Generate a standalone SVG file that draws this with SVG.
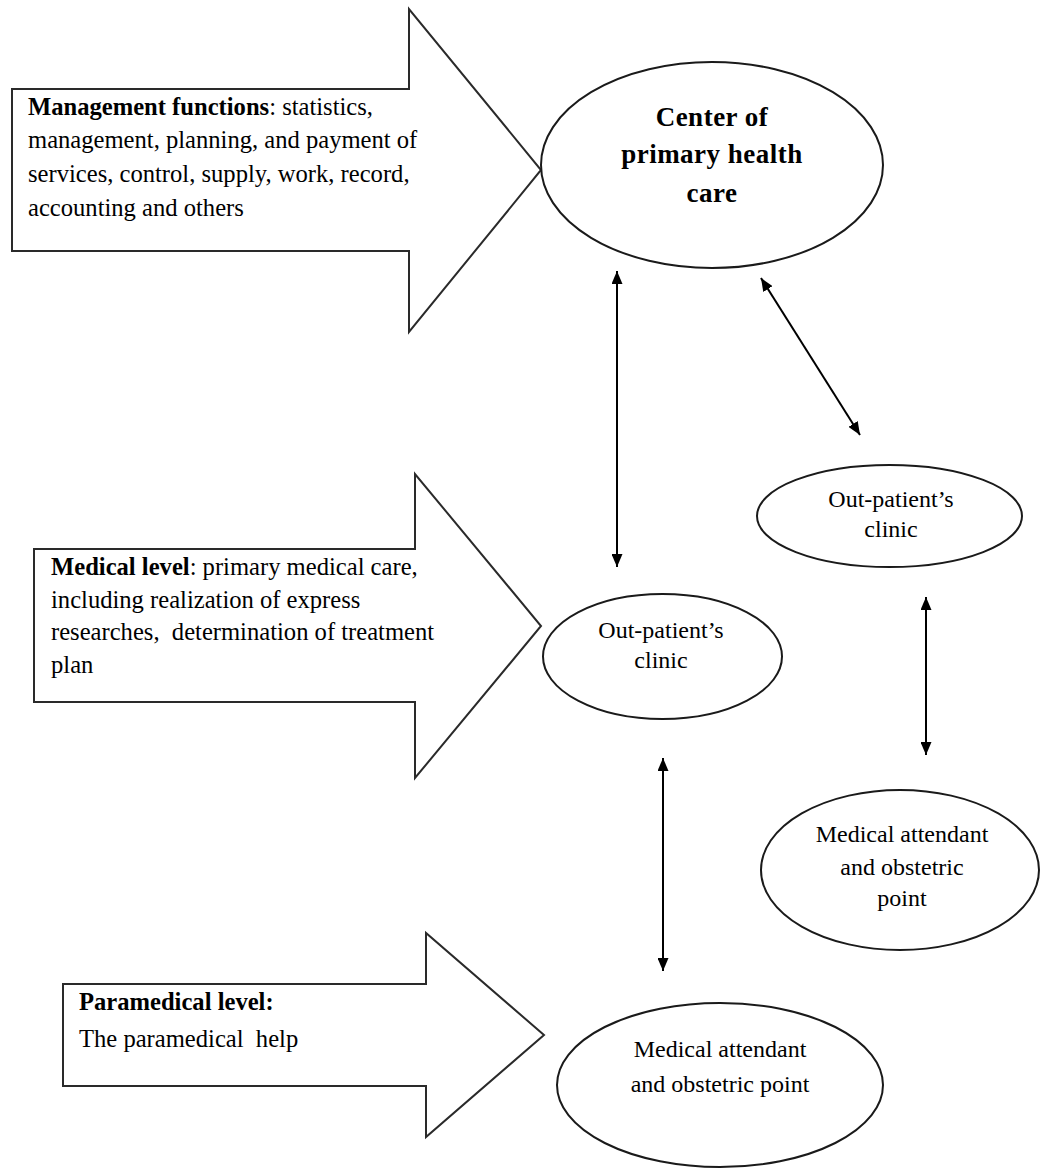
<svg xmlns="http://www.w3.org/2000/svg" width="1041" height="1175" viewBox="0 0 1041 1175">
  <defs>
    <style>
      .block { fill: #fff; stroke: #2a2a2a; stroke-width: 2; stroke-linejoin: miter; }
      .node { fill: #fff; stroke: #1a1a1a; stroke-width: 2; }
      .txt { font-family: "Liberation Serif", "Times New Roman", serif; font-size: 24px; fill: #000; }
      .lvl { font-size: 24.6px; }
      .b { font-weight: bold; }
      .title { font-family: "Liberation Serif", "Times New Roman", serif; font-size: 27px; font-weight: bold; letter-spacing: 0.5px; fill: #000; }
      .link { fill: none; stroke: #000; stroke-width: 2; marker-start: url(#head); marker-end: url(#head); }
    </style>
    <marker id="head" viewBox="0 0 13 11" refX="13" refY="5.5" markerWidth="13" markerHeight="11" markerUnits="userSpaceOnUse" orient="auto-start-reverse">
      <path d="M0,0 L13,5.5 L0,11 Z" fill="#000"/>
    </marker>
  </defs>

  <rect width="1041" height="1175" fill="#fff"/>

  <!-- Level block arrows -->
  <g id="management-functions">
    <polygon class="block" points="12,89 409,89 409,9 541,170 409,332 409,251 12,251"/>
    <text class="txt lvl" x="28" y="115"><tspan class="b">Management functions</tspan>: statistics,</text>
    <text class="txt lvl" x="28" y="148">management, planning, and payment of</text>
    <text class="txt lvl" x="28" y="182">services, control, supply, work, record,</text>
    <text class="txt lvl" x="28" y="216">accounting and others</text>
  </g>

  <g id="medical-level">
    <polygon class="block" points="34,549 415,549 415,474 541,626 415,778 415,702 34,702"/>
    <text class="txt lvl" x="51" y="575"><tspan class="b">Medical level</tspan>: primary medical care,</text>
    <text class="txt lvl" x="51" y="608">including realization of express</text>
    <text class="txt lvl" x="51" y="640">researches,&#160; determination of treatment</text>
    <text class="txt lvl" x="51" y="673">plan</text>
  </g>

  <g id="paramedical-level">
    <polygon class="block" points="63,984 426,984 426,933 544,1035 426,1137 426,1086 63,1086"/>
    <text class="txt lvl b" x="79" y="1010">Paramedical level:</text>
    <text class="txt lvl" x="79" y="1047">The paramedical&#160; help</text>
  </g>

  <!-- Institutions -->
  <g id="center-phc">
    <ellipse class="node" cx="712" cy="165" rx="171" ry="103"/>
    <text class="title" text-anchor="middle" x="712" y="126">Center of</text>
    <text class="title" text-anchor="middle" x="712" y="163">primary health</text>
    <text class="title" text-anchor="middle" x="712" y="202">care</text>
  </g>

  <g id="clinic-right">
    <ellipse class="node" cx="889.5" cy="516" rx="132.5" ry="51"/>
    <text class="txt" text-anchor="middle" x="891" y="507">Out-patient’s</text>
    <text class="txt" text-anchor="middle" x="891" y="537">clinic</text>
  </g>

  <g id="clinic-center">
    <ellipse class="node" cx="662.5" cy="656.5" rx="119.5" ry="62.5"/>
    <text class="txt" text-anchor="middle" x="661" y="638">Out-patient’s</text>
    <text class="txt" text-anchor="middle" x="661" y="668">clinic</text>
  </g>

  <g id="point-right">
    <ellipse class="node" cx="900" cy="870" rx="139" ry="80"/>
    <text class="txt" text-anchor="middle" x="902" y="842">Medical attendant</text>
    <text class="txt" text-anchor="middle" x="902" y="875">and obstetric</text>
    <text class="txt" text-anchor="middle" x="902" y="906">point</text>
  </g>

  <g id="point-bottom">
    <ellipse class="node" cx="720" cy="1085" rx="163" ry="82"/>
    <text class="txt" text-anchor="middle" x="720" y="1057">Medical attendant</text>
    <text class="txt" text-anchor="middle" x="720" y="1092">and obstetric point</text>
  </g>

  <!-- Two-way links -->
  <g id="connectors">
    <line class="link" x1="617" y1="271" x2="617" y2="567"/>
    <line class="link" x1="761" y1="278" x2="860" y2="435"/>
    <line class="link" x1="926" y1="597" x2="926" y2="755"/>
    <line class="link" x1="663" y1="758" x2="663" y2="971"/>
  </g>
</svg>
